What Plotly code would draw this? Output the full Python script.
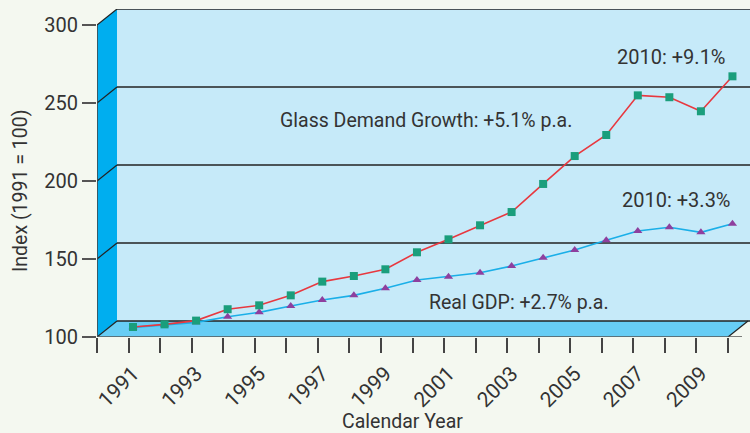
import plotly.graph_objects as go

years = list(range(1991, 2011))
glass = [106.4, 108.1, 110.5, 117.8, 120.3, 126.7, 135.5, 139.1, 143.4, 154.3,
         162.6, 171.6, 180.1, 198.1, 216.0, 229.5, 254.9, 253.7, 244.7, 267.1]
gdp = [106.2, 107.9, 109.4, 113.0, 115.8, 119.9, 123.7, 126.7, 131.2, 136.5,
       138.7, 141.2, 145.5, 150.8, 155.8, 162.0, 168.0, 170.3, 167.1, 172.6]
ytick_vals = [100, 150, 200, 250, 300]
xtick_labels = [str(y) for y in range(1991, 2011, 2)]

# geometry helpers (pixel -> data)
L, R, T, B = 97, 750, 9, 337
SX = 31.55          # px per year
SY = 78 / 50        # px per index unit
X0 = 1991 - (133 - L) / SX
X1 = X0 + (R - L) / SX
Y0 = 100
Y1 = 100 + (B - T) / SY
DX = 20 / SX
DY = 16 / SY

def X(px):
    return X0 + (px - L) / SX

def Y(py):
    return 100 + (B - py) / SY

FONT = "Roboto"
TXT = "#333333"
GRID = "#222222"
BG = "#F4F8F0"

fig = go.Figure()

fig.add_trace(go.Scatter(x=years, y=gdp, mode="lines+markers",
                         line=dict(color="#1AAFE8", width=1.6),
                         marker=dict(symbol="triangle-up", size=8, color="#8E3F9E"),
                         showlegend=False))
fig.add_trace(go.Scatter(x=years, y=glass, mode="lines+markers",
                         line=dict(color="#E8383F", width=1.6),
                         marker=dict(symbol="square", size=8, color="#1A9E7C"),
                         showlegend=False))
# dummy trace for the secondary x axis (tick marks)
fig.add_trace(go.Scatter(x=[X0], y=[Y0], xaxis="x2", mode="markers",
                         marker=dict(opacity=0), showlegend=False, hoverinfo="skip"))

shapes = []
# back wall
shapes.append(dict(type="rect", xref="x", yref="y", x0=X0 + DX, x1=X1, y0=Y0 + DY, y1=300 + DY,
                   fillcolor="#C6EAF9", line=dict(width=0), layer="below"))
# left wall
shapes.append(dict(type="path", xref="x", yref="y",
                   path=f"M {X0},{Y0} L {X0},{300} L {X0+DX},{300+DY} L {X0+DX},{Y0+DY} Z",
                   fillcolor="#00AEEF", line=dict(width=0), layer="below"))
# floor
XF = X0 + 20
shapes.append(dict(type="path", xref="x", yref="y",
                   path=f"M {X0},{Y0} L {XF},{Y0} L {XF+DX},{Y0+DY} L {X0+DX},{Y0+DY} Z",
                   fillcolor="#67CDF5", line=dict(width=0), layer="below"))
# grid lines on the back wall and diagonals on the left wall
for v in ytick_vals:
    shapes.append(dict(type="line", xref="x", yref="y", x0=X0 + DX, x1=X1, y0=v + DY, y1=v + DY,
                       line=dict(color=GRID, width=1.5), layer="below"))
    shapes.append(dict(type="line", xref="x", yref="y", x0=X0, x1=X0 + DX, y0=v, y1=v + DY,
                       line=dict(color=GRID, width=1.2), layer="below"))
# floor right diagonal
shapes.append(dict(type="line", xref="x", yref="y", x0=XF, x1=XF + DX, y0=Y0, y1=Y0 + DY,
                   line=dict(color=GRID, width=1.2), layer="below"))
# y axis line
shapes.append(dict(type="line", xref="x", yref="y", x0=X0, x1=X0, y0=Y0, y1=300,
                   line=dict(color="#444444", width=1.6), layer="above"))
# x axis line
shapes.append(dict(type="line", xref="x", yref="y", x0=X0, x1=X(742), y0=Y0, y1=Y0,
                   line=dict(color="#555555", width=1.6), layer="above"))

annotations = [
    dict(text="Glass Demand Growth: +5.1% p.a.", x=X(426), y=Y(120), xref="x", yref="y",
         showarrow=False, font=dict(family=FONT, size=19.5, color=TXT)),
    dict(text="2010: +9.1%", x=X(728), y=Y(57), xref="x", yref="y", xanchor="right",
         showarrow=False, font=dict(family=FONT, size=20, color=TXT)),
    dict(text="2010: +3.3%", x=X(733), y=Y(200), xref="x", yref="y", xanchor="right",
         showarrow=False, font=dict(family=FONT, size=20, color=TXT)),
    dict(text="Real GDP: +2.7% p.a.", x=X(519), y=Y(302), xref="x", yref="y",
         showarrow=False, font=dict(family=FONT, size=19.5, color=TXT)),
    dict(text="Calendar Year", x=(402 - L) / (R - L), y=-(421 - B) / (B - T), xref="paper", yref="paper",
         xanchor="center", yanchor="middle",
         showarrow=False, font=dict(family=FONT, size=19.5, color=TXT)),
    dict(text="Index (1991 = 100)", x=-(L - 20) / (R - L), y=(B - 191) / (B - T), xref="paper", yref="paper",
         xanchor="center", yanchor="middle",
         showarrow=False, textangle=-90, font=dict(family=FONT, size=19.5, color=TXT)),
]

fig.update_layout(
    width=750, height=433,
    margin=dict(l=L, r=750 - R, t=T, b=433 - B, autoexpand=False),
    paper_bgcolor=BG,
    plot_bgcolor="rgba(0,0,0,0)",
    shapes=shapes,
    annotations=annotations,
    xaxis=dict(range=[X0, X1], tickvals=list(range(1991, 2011, 2)), ticktext=xtick_labels,
               tickangle=-45, ticks="outside", ticklen=15, tickcolor="rgba(0,0,0,0)",
               showgrid=False, zeroline=False, showline=False, automargin=False,
               tickfont=dict(family=FONT, size=21, color=TXT)),
    xaxis2=dict(range=[X0, X1], overlaying="x", side="bottom", automargin=False,
                tickvals=[X0 + k for k in range(21)], ticks="outside", ticklen=15,
                tickwidth=1.6, tickcolor="#444444", showticklabels=False,
                showgrid=False, zeroline=False, showline=False),
    yaxis=dict(range=[Y0, Y1], tickvals=ytick_vals, ticks="outside", ticklen=14,
               tickwidth=1.6, tickcolor="#555555", showgrid=False, zeroline=False, showline=False,
               automargin=False, tickfont=dict(family=FONT, size=20, color=TXT)),
)

fig.write_html("out.html", config={"displayModeBar": False},
               post_script=f"document.body.style.margin='0';document.body.style.background='{BG}';")
